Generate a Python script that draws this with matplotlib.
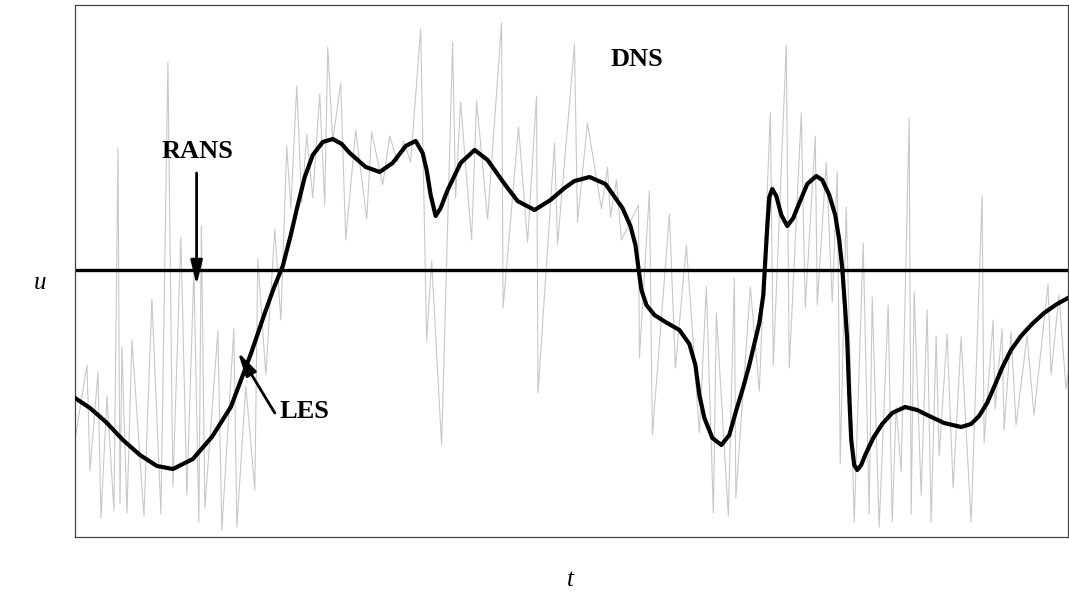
import matplotlib

matplotlib.use("Agg")
import matplotlib.pyplot as plt

# DNS signal (gray)
dns_t = [0.0, 1.2, 1.5, 2.3, 2.6, 3.2, 3.9, 4.3, 4.5, 4.7, 5.2, 5.7, 6.9, 7.7, 8.6,
         9.3, 9.8, 10.6, 11.2, 11.9, 12.4, 12.65, 13.0, 14.3, 14.7, 15.9, 16.2, 17.1,
         18.0, 18.3, 19.1, 20.0, 20.6, 21.2, 21.6, 22.2, 22.7, 23.2, 23.8, 24.5, 25.0,
         25.3, 25.8, 26.6, 27.1, 28.1, 29.2, 29.7, 30.8, 31.5, 32.3, 32.9, 33.6, 34.6,
         35.2, 35.7, 36.7, 37.8, 38.1, 38.6, 39.7, 40.2, 41.3, 42.7, 42.85, 44.4, 45.3,
         46.2, 46.35, 48.0, 48.3, 50.0, 50.3, 51.3, 52.7, 53.3, 53.6, 54.2, 54.7, 56.4,
         56.5, 57.5, 57.8, 59.5, 60.1, 61.2, 62.5, 63.2, 63.9, 64.2, 65.4, 66.0, 66.15,
         67.6, 68.5, 69.6, 69.9, 71.2, 71.5, 72.7, 73.1, 74.1, 74.3, 75.2, 75.8, 76.3,
         76.6, 77.2, 78.0, 78.9, 79.5, 79.8, 80.5, 81.4, 81.8, 82.2, 82.7, 83.5, 83.7,
         84.0, 84.7, 85.3, 85.7, 86.2, 86.5, 87.3, 87.9, 88.7, 89.7, 90.8, 91.0, 91.9,
         92.1, 92.8, 93.0, 93.7, 94.2, 95.3, 96.0, 97.4, 97.7, 98.5, 99.2, 99.4]
dns_u = [-1.70, -0.95, -2.01, -1.02, -2.48, -1.26, -2.41, 1.22, -2.33, -0.77, -2.43, -0.70,
         -2.46, -0.29, -2.44, 2.08, -2.17, 0.33, -2.25, 0.00, -2.52, 0.44, -2.38, -0.61,
         -2.60, -0.59, -2.57, -1.16, -2.20, 0.11, -1.05, 0.41, -0.50, 1.24, 0.61, 1.84,
         0.67, 1.36, 0.72, 1.76, 0.65, 2.23, 1.29, 1.87, 0.30, 1.40, 0.51, 1.38, 0.85,
         1.34, 1.08, 1.29, 1.08, 2.41, -0.71, 0.09, -1.75, 2.28, 0.72, 1.68, 0.30, 1.69,
         0.51, 2.47, -0.38, 1.43, 0.28, 1.74, -1.23, 1.27, 0.25, 2.26, 0.48, 1.47, 0.61,
         1.03, 0.53, 0.90, 0.30, 0.65, -0.88, 0.79, -1.65, 0.56, -0.98, 0.25, -1.63,
         -0.17, -2.43, -0.43, -2.46, -0.08, -2.28, -0.17, -1.21, 1.57, -0.95, 2.25,
         -0.98, 1.57, -0.38, 1.34, -0.35, 1.08, -0.32, 0.98, -1.94, 0.63, -2.52, 0.27,
         -2.44, -0.27, -2.57, -0.35, -2.52, -1.37, -2.02, 1.52, -2.44, -0.22, -2.25,
         -0.40, -2.52, -0.66, -1.86, -0.64, -2.18, -0.67, -2.52, 0.74, -1.73, -0.50,
         -1.39, -0.59, -1.60, -0.62, -1.55, -0.66, -1.45, -0.14, -1.05, -0.25, -1.19,
         -1.05]

# LES curve (thick black)
les_t = [0.0, 1.5, 3.1, 4.8, 6.5, 8.2, 9.8, 11.8, 13.7, 15.6, 17.6, 19.0, 19.9, 20.8,
         21.6, 22.3, 23.0, 23.8, 24.8, 25.8, 26.7, 27.5, 29.1, 30.5, 31.8, 33.1, 34.1,
         34.8, 35.2, 35.6, 36.1, 36.6, 37.3, 38.6, 40.0, 41.3, 43.0, 44.3, 46.0, 47.6,
         49.0, 50.0, 51.5, 53.1, 54.8, 55.6, 56.1, 56.4, 56.7, 57.2, 58.0, 59.1, 60.5,
         61.5, 62.1, 62.5, 63.0, 63.8, 64.7, 65.5, 66.2, 66.9, 67.5, 68.5, 68.9, 69.1,
         69.3, 69.5, 69.8, 70.2, 70.7, 71.3, 71.9, 72.5, 73.3, 74.2, 74.8, 75.5, 76.1,
         76.5, 76.8, 77.1, 77.3, 77.5, 77.7, 78.0, 78.3, 78.7, 79.1, 79.9, 80.8, 81.8,
         83.1, 84.3, 85.5, 87.0, 88.7, 89.7, 90.5, 91.3, 92.0, 92.8, 93.7, 94.7, 95.7,
         97.0, 98.3, 99.4]
les_u = [-1.28, -1.38, -1.52, -1.70, -1.85, -1.96, -1.99, -1.89, -1.67, -1.37, -0.84,
         -0.43, -0.18, 0.04, 0.35, 0.65, 0.93, 1.15, 1.28, 1.31, 1.26, 1.17, 1.03, 0.98,
         1.07, 1.24, 1.29, 1.17, 1.00, 0.75, 0.54, 0.62, 0.80, 1.07, 1.20, 1.10, 0.86,
         0.69, 0.60, 0.70, 0.82, 0.89, 0.93, 0.86, 0.62, 0.44, 0.25, 0.02, -0.20, -0.35,
         -0.45, -0.52, -0.60, -0.74, -0.95, -1.25, -1.48, -1.68, -1.75, -1.65, -1.40,
         -1.17, -0.95, -0.53, -0.25, 0.10, 0.44, 0.73, 0.81, 0.74, 0.55, 0.44, 0.52,
         0.67, 0.86, 0.94, 0.90, 0.75, 0.55, 0.30, 0.02, -0.40, -0.70, -1.25, -1.70,
         -1.95, -2.00, -1.95, -1.85, -1.68, -1.54, -1.43, -1.37, -1.40, -1.46, -1.53,
         -1.57, -1.54, -1.46, -1.33, -1.17, -0.98, -0.80, -0.66, -0.55, -0.43, -0.34,
         -0.28]

# RANS mean value
rans_u = 0.0

plt.rcParams["font.family"] = ["Liberation Serif", "DejaVu Serif"]

fig = plt.figure(figsize=(10.69, 5.97), dpi=100)
ax = fig.add_axes([75 / 1069, 60 / 597, 993 / 1069, 532 / 597])

ax.plot(dns_t, dns_u, color="#c8c8c8", lw=0.8, zorder=1)
ax.axhline(rans_u, color="black", lw=2.4, zorder=2)
ax.plot(les_t, les_u, color="black", lw=3.0, zorder=3, solid_joinstyle="round")

arrow = dict(arrowstyle="-|>,head_width=0.22,head_length=0.9", lw=2.0,
             color="black", mutation_scale=16, shrinkA=0, shrinkB=0)
ax.annotate("", xy=(12.17, -0.15), xytext=(12.17, 0.97), arrowprops=arrow)
ax.annotate("", xy=(16.3, -0.82), xytext=(20.0, -1.43), arrowprops=arrow)

bold = dict(fontsize=19, fontweight="bold", ha="center", va="center")
ax.text(56.3, 2.10, "DNS", **bold)
ax.text(12.3, 1.19, "RANS", **bold)
ax.text(23.0, -1.42, "LES", **bold)

fig.text(40 / 1069, 1 - 283 / 597, "u", fontsize=18, style="italic",
         ha="center", va="center")
fig.text(570 / 1069, 1 - 580 / 597, "t", fontsize=18, style="italic",
         ha="center", va="center")

ax.set_xlim(0, 99.4)
ax.set_ylim(-2.67, 2.65)
ax.set_xticks([])
ax.set_yticks([])
for s in ax.spines.values():
    s.set_color("#444444")
    s.set_linewidth(0.9)

fig.savefig("out.png", dpi=100)
